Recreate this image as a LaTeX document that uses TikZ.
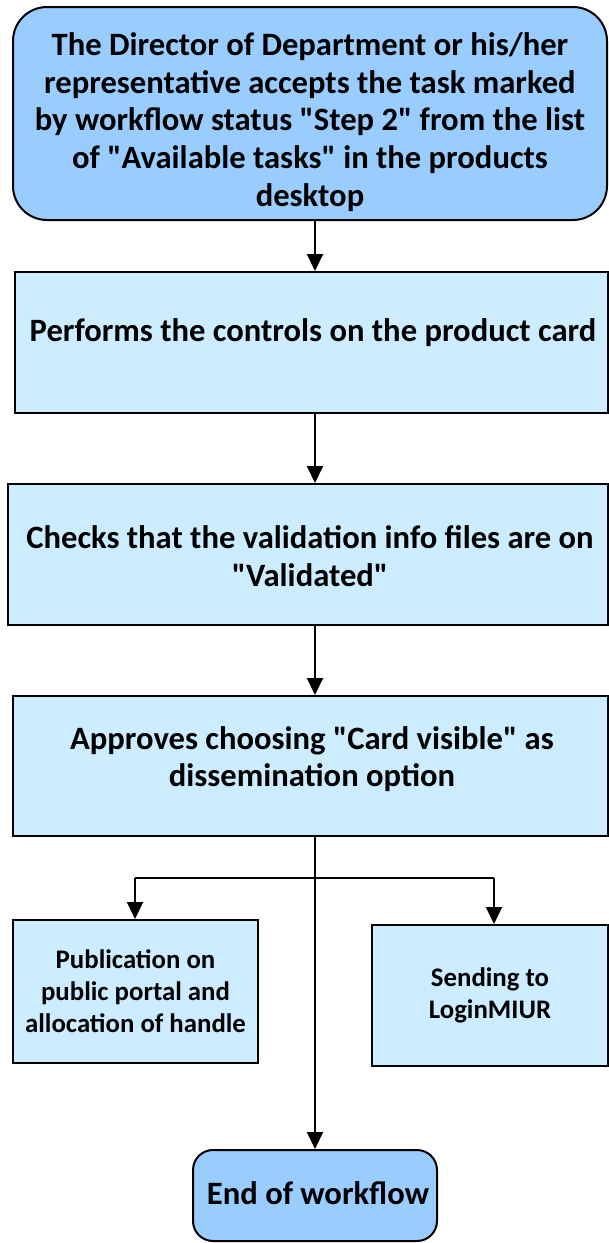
\documentclass[tikz,border=0pt]{standalone}
\usepackage{fontspec}
\setmainfont{Carlito}[Ligatures=TeXOff]
\usetikzlibrary{arrows.meta}
\definecolor{darkfill}{RGB}{153,204,255}
\definecolor{lightfill}{RGB}{204,236,255}
\begin{document}
\begin{tikzpicture}[x=0.5pt,y=-0.5pt,
  box/.style={draw=black,line width=1pt,fill=lightfill,align=center,inner sep=0pt,
    font=\fontsize{16.3}{18.8}\selectfont\bfseries},
  rbox/.style={box,fill=darkfill,rounded corners=17pt},
  label/.style={align=center,inner sep=0pt,font=\fontsize{16.3}{18.8}\selectfont\bfseries},
  smallbox/.style={box,font=\fontsize{13.4}{16}\selectfont\bfseries},
  arr/.style={-{Triangle[width=8pt,length=8.5pt]},line width=1pt},
  link/.style={line width=1pt}]
\useasboundingbox (0,0) rectangle (609,1243);
\node[rbox,minimum width=297pt,minimum height=106.5pt] (top) at (310,113.5) {};
\node[label] (ttop) at (310,122)
  {The Director of Department or his/her\\representative accepts the task marked\\by workflow status "Step 2" from the list\\of "Available tasks" in the products\\desktop};
\node[box,minimum width=296.5pt,minimum height=70.5pt] (b2) at (311.5,342.5) {};
\node[label] (t2) at (313,333) {Performs the controls on the product card};
\node[box,minimum width=300pt,minimum height=70.5pt] (b3) at (308,554.5) {};
\node[label] (t3) at (310,556)
  {Checks that the validation info files are on\\"Validated"};
\node[box,minimum width=297.5pt,minimum height=70pt] (b4) at (310.5,766) {};
\node[label] (t4) at (312,759)
  {Approves choosing "Card visible" as\\dissemination option};
\node[smallbox,minimum width=122.5pt,minimum height=71.5pt] (L) at (135.5,991.5)
  {Publication on\\public portal and\\allocation of handle};
\node[smallbox,minimum width=118pt,minimum height=70.5pt] (R) at (490,995.5)
  {Sending to\\LoginMIUR};
\node[rbox,rounded corners=10pt,minimum width=122pt,minimum height=45.5pt] (end) at (315,1195.5) {};
\node[label] (tend) at (318,1193) {End of workflow};
\coordinate (spine) at (315,0);
\coordinate (forkL) at (135,878);
\coordinate (forkR) at (494,878);
\draw[arr] (top.south -| spine) -- (b2.north -| spine);
\draw[arr] (b2.south -| spine) -- (b3.north -| spine);
\draw[arr] (b3.south -| spine) -- (b4.north -| spine);
\draw[arr] (b4.south -| spine) -- (end.north -| spine);
\draw[link] (forkL) -- (forkR);
\draw[arr] (forkL) -- (L.north -| forkL);
\draw[arr] (forkR) -- (R.north -| forkR);
\end{tikzpicture}
\end{document}
